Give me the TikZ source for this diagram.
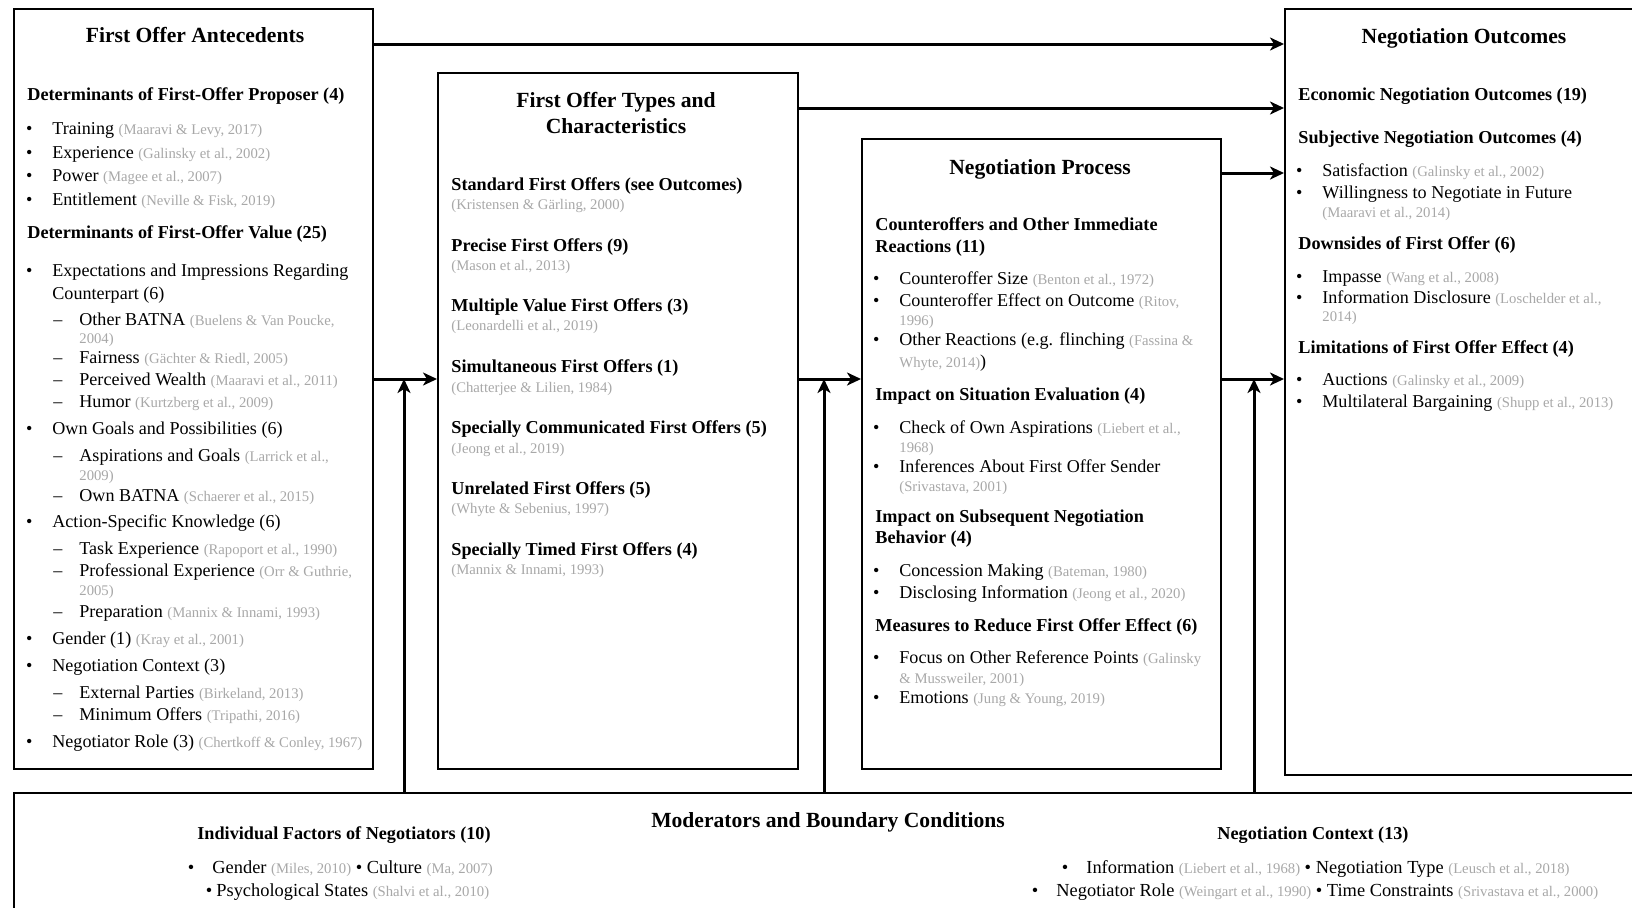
\documentclass[tikz,border=0pt]{standalone}
\usepackage{fontspec}
\setmainfont{Liberation Serif}
\usepackage{tikz}
\usetikzlibrary{positioning}
\usetikzlibrary{arrows.meta}
\usepackage{xcolor}
\definecolor{citegray}{RGB}{168,168,168}
\newcommand{\cit}[1]{{\fontsize{7.35}{8.8}\selectfont\color{citegray}#1}}
\newcommand{\bl}{\llap{\textbullet\hspace{10pt}}}
\newcommand{\ds}{\llap{--\hspace{8.5pt}}}
\tikzset{
  box/.style={draw, line width=1.2pt, anchor=north west, inner sep=0pt},
  flow/.style={line width=1.5pt, -{Stealth[length=7pt,width=6.5pt,inset=2pt]}},
  ttl/.style={anchor=mid, inner sep=0pt, font=\fontsize{10.8}{13}\selectfont\bfseries},
  hd/.style={anchor=mid west, inner sep=0pt, font=\fontsize{9.1}{11}\selectfont\bfseries},
  tx/.style={anchor=mid west, inner sep=0pt, font=\fontsize{9.05}{11}\selectfont},
  ct/.style={anchor=mid west, inner sep=0pt, font=\fontsize{7.35}{8.8}\selectfont, text=citegray},
  btx/.style={tx, font=\fontsize{9.2}{11}\selectfont}
}
\begin{document}
\begin{tikzpicture}[x=0.5pt,y=-0.5pt]
\clip (0,0) rectangle (1632,907);
\fill[white] (0,0) rectangle (1632,907);
% boxes
\node[box, minimum width=179.5pt, minimum height=380pt] (ante) at (13,8) {};
\node[box, minimum width=180pt, minimum height=348pt] (types) at (437,72) {};
\node[box, minimum width=179.5pt, minimum height=315pt] (proc) at (861,138) {};
\node[box, minimum width=180pt, minimum height=383pt] (outc) at (1284,8) {};
\node[box, minimum width=820pt, minimum height=70pt] (mod) at (13,792) {};
\begin{scope}[yshift=-1pt]
% first offer antecedents
\node[ttl] (a0) at (195,36) {First Offer Antecedents};
\node[hd] (a1) at (27,94) {Determinants of First-Offer Proposer (4)};
\node[tx] (a2) at (52,128) {\bl Training \cit{(Maaravi \& Levy, 2017)}};
\node[tx] (a3) at (52,152) {\bl Experience \cit{(Galinsky et al., 2002)}};
\node[tx] (a4) at (52,175) {\bl Power \cit{(Magee et al., 2007)}};
\node[tx] (a5) at (52,199) {\bl Entitlement \cit{(Neville \& Fisk, 2019)}};
\node[hd] (a6) at (27,232) {Determinants of First-Offer Value (25)};
\node[tx] (a7) at (52,270) {\bl Expectations and Impressions Regarding};
\node[tx] (a8) at (52,293) {Counterpart (6)};
\node[tx] (a9) at (79,319) {\ds Other BATNA \cit{(Buelens \& Van Poucke,}};
\node[ct] (a10) at (79,337) {2004)};
\node[tx] (a11) at (79,357) {\ds Fairness \cit{(Gächter \& Riedl, 2005)}};
\node[tx] (a12) at (79,379) {\ds Perceived Wealth \cit{(Maaravi et al., 2011)}};
\node[tx] (a13) at (79,401) {\ds Humor \cit{(Kurtzberg et al., 2009)}};
\node[tx] (a14) at (52,428) {\bl Own Goals and Possibilities (6)};
\node[tx] (a15) at (79,455) {\ds Aspirations and Goals \cit{(Larrick et al.,}};
\node[ct] (a16) at (79,474) {2009)};
\node[tx] (a17) at (79,495) {\ds Own BATNA \cit{(Schaerer et al., 2015)}};
\node[tx] (a18) at (52,521) {\bl Action-Specific Knowledge (6)};
\node[tx] (a19) at (79,548) {\ds Task Experience \cit{(Rapoport et al., 1990)}};
\node[tx] (a20) at (79,570) {\ds Professional Experience \cit{(Orr \& Guthrie,}};
\node[ct] (a21) at (79,589) {2005)};
\node[tx] (a22) at (79,611) {\ds Preparation \cit{(Mannix \& Innami, 1993)}};
\node[tx] (a23) at (52,638) {\bl Gender (1) \cit{(Kray et al., 2001)}};
\node[tx] (a24) at (52,665) {\bl Negotiation Context (3)};
\node[tx] (a25) at (79,692) {\ds External Parties \cit{(Birkeland, 2013)}};
\node[tx] (a26) at (79,714) {\ds Minimum Offers \cit{(Tripathi, 2016)}};
\node[tx] (a27) at (52,741) {\bl Negotiator Role (3) \cit{(Chertkoff \& Conley, 1967)}};
% first offer types
\node[ttl] (t0) at (616,101) {First Offer Types and};
\node[ttl] (t1) at (616,127) {Characteristics};
\node[hd] (t2) at (451,184) {Standard First Offers (see Outcomes)};
\node[ct] (t3) at (451,203) {(Kristensen \& Gärling, 2000)};
\node[hd] (t4) at (451,245) {Precise First Offers (9)};
\node[ct] (t5) at (451,264) {(Mason et al., 2013)};
\node[hd] (t6) at (451,305) {Multiple Value First Offers (3)};
\node[ct] (t7) at (451,324) {(Leonardelli et al., 2019)};
\node[hd] (t8) at (451,366) {Simultaneous First Offers (1)};
\node[ct] (t9) at (451,386) {(Chatterjee \& Lilien, 1984)};
\node[hd] (t10) at (451,427) {Specially Communicated First Offers (5)};
\node[ct] (t11) at (451,447) {(Jeong et al., 2019)};
\node[hd] (t12) at (451,488) {Unrelated First Offers (5)};
\node[ct] (t13) at (451,507) {(Whyte \& Sebenius, 1997)};
\node[hd] (t14) at (451,549) {Specially Timed First Offers (4)};
\node[ct] (t15) at (451,568) {(Mannix \& Innami, 1993)};
% negotiation process
\node[ttl] (p0) at (1040,168) {Negotiation Process};
\node[hd] (p1) at (875,224) {Counteroffers and Other Immediate};
\node[hd] (p2) at (875,246) {Reactions (11)};
\node[tx] (p3) at (899,278) {\bl Counteroffer Size \cit{(Benton et al., 1972)}};
\node[tx] (p4) at (899,300) {\bl Counteroffer Effect on Outcome \cit{(Ritov,}};
\node[ct] (p5) at (899,319) {1996)};
\node[tx] (p6) at (899,339) {\bl Other Reactions (e.g. flinching \cit{(Fassina \&}};
\node[tx] (p7) at (899,361) {\cit{Whyte, 2014)})};
\node[hd] (p8) at (875,394) {Impact on Situation Evaluation (4)};
\node[tx] (p9) at (899,427) {\bl Check of Own Aspirations \cit{(Liebert et al.,}};
\node[ct] (p10) at (899,446) {1968)};
\node[tx] (p11) at (899,466) {\bl Inferences About First Offer Sender};
\node[ct] (p12) at (899,485) {(Srivastava, 2001)};
\node[hd] (p13) at (875,516) {Impact on Subsequent Negotiation};
\node[hd] (p14) at (875,537) {Behavior (4)};
\node[tx] (p15) at (899,570) {\bl Concession Making \cit{(Bateman, 1980)}};
\node[tx] (p16) at (899,592) {\bl Disclosing Information \cit{(Jeong et al., 2020)}};
\node[hd] (p17) at (875,625) {Measures to Reduce First Offer Effect (6)};
\node[tx] (p18) at (899,657) {\bl Focus on Other Reference Points \cit{(Galinsky}};
\node[ct] (p19) at (899,677) {\& Mussweiler, 2001)};
\node[tx] (p20) at (899,697) {\bl Emotions \cit{(Jung \& Young, 2019)}};
% negotiation outcomes
\node[ttl] (o0) at (1464,37) {Negotiation Outcomes};
\node[hd] (o1) at (1298,94) {Economic Negotiation Outcomes (19)};
\node[hd] (o2) at (1298,137) {Subjective Negotiation Outcomes (4)};
\node[tx] (o3) at (1322,170) {\bl Satisfaction \cit{(Galinsky et al., 2002)}};
\node[tx] (o4) at (1322,192) {\bl Willingness to Negotiate in Future};
\node[ct] (o5) at (1322,211) {(Maaravi et al., 2014)};
\node[hd] (o6) at (1298,243) {Downsides of First Offer (6)};
\node[tx] (o7) at (1322,276) {\bl Impasse \cit{(Wang et al., 2008)}};
\node[tx] (o8) at (1322,297) {\bl Information Disclosure \cit{(Loschelder et al.,}};
\node[ct] (o9) at (1322,315) {2014)};
\node[hd] (o10) at (1298,347) {Limitations of First Offer Effect (4)};
\node[tx] (o11) at (1322,379) {\bl Auctions \cit{(Galinsky et al., 2009)}};
\node[tx] (o12) at (1322,401) {\bl Multilateral Bargaining \cit{(Shupp et al., 2013)}};
% moderators
\node[ttl] (m0) at (828,821) {Moderators and Boundary Conditions};
\node[hd, anchor=mid] (m1) at (344,833) {Individual Factors of Negotiators (10)};
\node[btx] (m2) at (212,867) {\llap{\textbullet\hspace{9pt}}Gender \cit{(Miles, 2010)} \textbullet{} Culture \cit{(Ma, 2007)}};
\node[btx] (m3) at (216,890) {\llap{\textbullet\hspace{2pt}}Psychological States \cit{(Shalvi et al., 2010)}};
\node[hd, anchor=mid] (m4) at (1313,833) {Negotiation Context (13)};
\node[btx] (m5) at (1086,867) {\llap{\textbullet\hspace{9pt}}Information \cit{(Liebert et al., 1968)} \textbullet{} Negotiation Type \cit{(Leusch et al., 2018)}};
\node[btx] (m6) at (1056,890) {\llap{\textbullet\hspace{9pt}}Negotiator Role \cit{(Weingart et al., 1990)} \textbullet{} Time Constraints \cit{(Srivastava et al., 2000)}};
\end{scope}
% connectors
\coordinate (r1) at (0,44);
\coordinate (r2) at (0,108);
\coordinate (r3) at (0,173);
\coordinate (r4) at (0,379);
\coordinate (j1) at (404,379);
\coordinate (j2) at (824,379);
\coordinate (j3) at (1254,379);
\draw[flow] (ante.east |- r1) -- (outc.west |- r1);
\draw[flow] (types.east |- r2) -- (outc.west |- r2);
\draw[flow] (proc.east |- r3) -- (outc.west |- r3);
\draw[flow] (ante.east |- r4) -- (types.west |- r4);
\draw[flow] (types.east |- r4) -- (proc.west |- r4);
\draw[flow] (proc.east |- r4) -- (outc.west |- r4);
\draw[flow] (mod.north -| j1) -- (j1);
\draw[flow] (mod.north -| j2) -- (j2);
\draw[flow] (mod.north -| j3) -- (j3);
\end{tikzpicture}
\end{document}
